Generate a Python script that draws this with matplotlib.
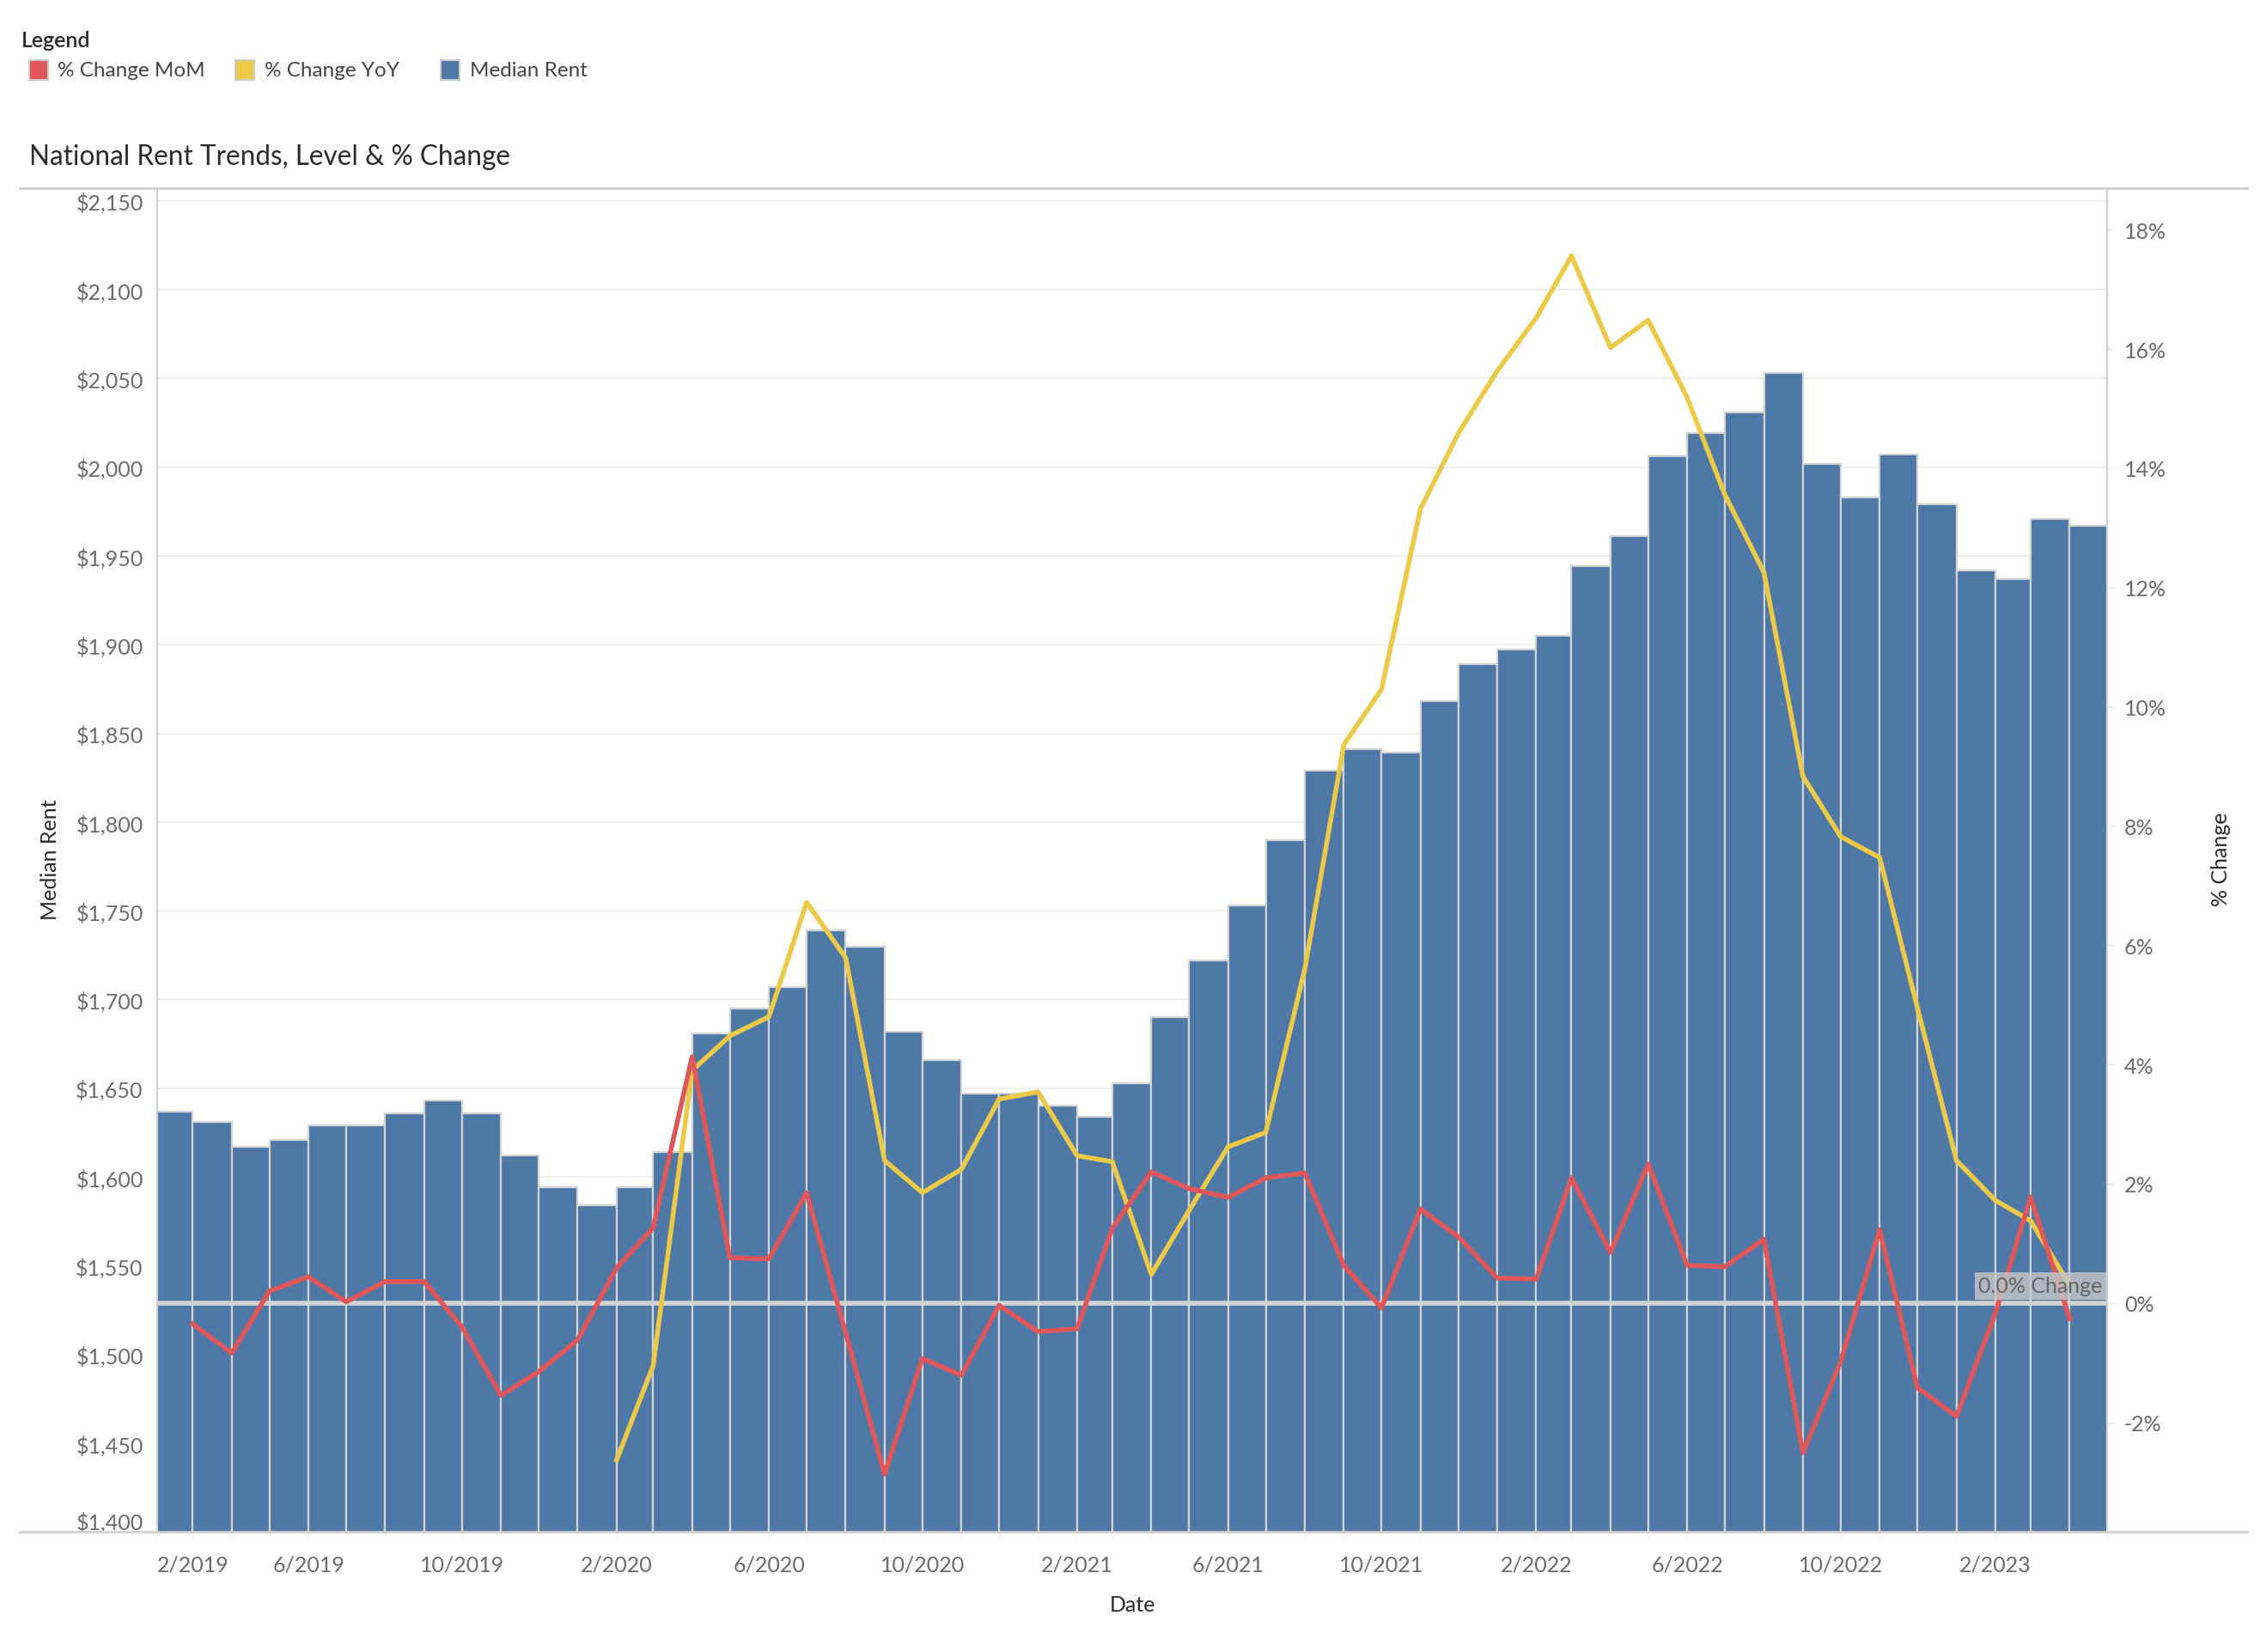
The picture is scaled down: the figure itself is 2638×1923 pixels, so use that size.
"""National rent trends: median rent bars with MoM / YoY % change lines."""

import matplotlib

matplotlib.use("Agg")
import matplotlib.pyplot as plt
import matplotlib.dates as mdates
import numpy as np
import pandas as pd
from matplotlib.lines import Line2D
from matplotlib.patches import Rectangle
from matplotlib.transforms import blended_transform_factory

OUT = "out.png"

# monthly median rent, 2/2019 .. 4/2023
RENT_START = "2019-02-01"
MEDIAN_RENT = [
    1637, 1631, 1617, 1621, 1629, 1629, 1636, 1643, 1636, 1612, 1594,
    1584, 1594, 1614, 1681, 1695, 1707, 1739, 1730, 1682, 1666, 1647, 1647,
    1640, 1634, 1653, 1690, 1722, 1753, 1790, 1829, 1841, 1839, 1868, 1889,
    1897, 1905, 1944, 1961, 2006, 2019, 2031, 2053, 2002, 1983, 2007, 1979,
    1942, 1937, 1971, 1967,
]

# % change month over month, 3/2019 .. 4/2023
MOM_START = "2019-03-01"
MOM_PCT = [
    -0.35, -0.84, 0.20, 0.44, 0.02, 0.36, 0.36, -0.40, -1.55, -1.15,
    -0.62, 0.59, 1.26, 4.13, 0.76, 0.74, 1.85, -0.50, -2.87, -0.93, -1.21, -0.04,
    -0.48, -0.43, 1.25, 2.20, 1.92, 1.77, 2.10, 2.18, 0.63, -0.08, 1.58, 1.11,
    0.42, 0.40, 2.10, 0.85, 2.33, 0.63, 0.61, 1.07, -2.51, -0.98, 1.23, -1.42,
    -1.90, -0.17, 1.78, -0.26,
]

# % change year over year, 2/2020 .. 4/2023
YOY_START = "2020-02-01"
YOY_PCT = [
    -2.63, -1.05, 3.90, 4.48, 4.80, 6.72, 5.79, 2.39, 1.85, 2.24, 3.42,
    3.54, 2.47, 2.37, 0.48, 1.55, 2.62, 2.86, 5.60, 9.36, 10.29, 13.32, 14.58,
    15.63, 16.52, 17.56, 16.02, 16.48, 15.18, 13.55, 12.25, 8.83, 7.82, 7.47, 4.95,
    2.39, 1.72, 1.38, 0.30,
]

RENT_TICKS = list(range(1400, 2151, 50))
PCT_TICKS = list(range(-2, 19, 2))

BLUE = "#4e79a7"
RED = "#e15759"
YELLOW = "#edc948"
TICK_GRAY = "#6b6b6b"
DARK = "#2a2a2a"
LINE_GRAY = "#d0d0d0"

RENT_LIM = (1400, 2157)
ZERO_RENT = 1529.0   # rent level where the 0% line sits
RENT_PER_PCT = 33.6


def main():
    plt.rcParams["font.family"] = ["Lato", "DejaVu Sans"]

    fig = plt.figure(figsize=(26.38, 19.24), dpi=100)
    ax = fig.add_axes([0.0695, 0.0726, 0.8605, 0.8129])

    edges = pd.date_range(RENT_START, periods=len(MEDIAN_RENT) + 1, freq="MS")
    enum = mdates.date2num(edges)
    ax.bar(enum[:-1], MEDIAN_RENT, width=np.diff(enum), align="edge",
           color=BLUE, edgecolor="#d4d4d4", linewidth=1.6, zorder=2)

    ax.set_xlim(enum[0], enum[-1])
    ax.set_ylim(*RENT_LIM)
    ax.set_yticks(RENT_TICKS)
    ax.set_yticklabels([f"${v:,}" for v in RENT_TICKS])
    ax.yaxis.grid(True, color="#efefef", lw=1.5)
    ax.set_axisbelow(True)
    ax.tick_params(axis="y", length=0, pad=12, labelsize=18, labelcolor=TICK_GRAY)
    ax.get_yticklabels()[0].set_va("bottom")

    xt = pd.date_range("2019-02-01", "2023-02-01", freq="4MS")
    ax.set_xticks(mdates.date2num(xt))
    ax.set_xticklabels([f"{d.month}/{d.year}" for d in xt])
    ax.set_xticks(enum, minor=True)
    ax.tick_params(axis="x", which="both", length=6, width=1, color="#ececec",
                   pad=13, labelsize=18, labelcolor=TICK_GRAY)
    ax.get_xticklabels()[0].set_ha("left")

    for s in ("top", "bottom", "right"):
        ax.spines[s].set_visible(False)
    ax.spines["left"].set_color(LINE_GRAY)
    ax.spines["left"].set_linewidth(1.5)

    # % change lines on the right axis
    ax2 = ax.twinx()
    ax2.set_ylim((RENT_LIM[0] - ZERO_RENT) / RENT_PER_PCT,
                 (RENT_LIM[1] - ZERO_RENT) / RENT_PER_PCT)
    ax2.axhline(0, color="#d3d3d3", lw=4, zorder=1)
    mom_x = mdates.date2num(pd.date_range(MOM_START, periods=len(MOM_PCT), freq="MS"))
    yoy_x = mdates.date2num(pd.date_range(YOY_START, periods=len(YOY_PCT), freq="MS"))
    ax2.plot(yoy_x, YOY_PCT, color=YELLOW, lw=4, solid_joinstyle="round", zorder=3)
    ax2.plot(mom_x, MOM_PCT, color=RED, lw=4, solid_joinstyle="round", zorder=4)

    tr = blended_transform_factory(ax2.transAxes, ax2.transData)
    ax2.text(0.9975, 0.12, "0.0% Change", transform=tr, ha="right", va="bottom",
             fontsize=18, color="#666666", zorder=5,
             bbox=dict(facecolor="#c8c8c8", edgecolor="none", alpha=0.8, pad=3))

    ax2.set_yticks(PCT_TICKS)
    ax2.set_yticklabels([f"{v}%" for v in PCT_TICKS])
    ax2.tick_params(axis="y", length=6, width=1, color="#e6e6e6", pad=8,
                    labelsize=18, labelcolor=TICK_GRAY)
    for s in ("top", "bottom", "left"):
        ax2.spines[s].set_visible(False)
    ax2.spines["right"].set_color(LINE_GRAY)
    ax2.spines["right"].set_linewidth(1.5)

    # pane borders spanning the whole width
    for y in (0.8855, 0.0726):
        fig.add_artist(Line2D([0.0089, 0.9917], [y, y], transform=fig.transFigure,
                              color="#cfcfcf", lw=2))

    fig.text(0.0223, 0.48, "Median Rent", rotation=90, ha="center", va="center",
             fontsize=18, color=DARK)
    fig.text(0.980, 0.48, "% Change", rotation=90, ha="center", va="center",
             fontsize=18, color=DARK)
    fig.text(0.5, 0.0288, "Date", ha="center", va="center", fontsize=18, color=DARK)

    fig.text(0.01276, 0.9047, "National Rent Trends, Level & % Change", ha="left",
             va="center", fontsize=22.7, color=DARK)

    # legend
    fig.text(0.0096, 0.9755, "Legend", ha="left", va="center", fontsize=18,
             color=DARK, fontweight="semibold")
    for x0, color, label in ((0.01276, RED, "% Change MoM"),
                             (0.1040, YELLOW, "% Change YoY"),
                             (0.1945, BLUE, "Median Rent")):
        fig.add_artist(Rectangle((x0, 0.9511), 0.0083, 0.0122, transform=fig.transFigure,
                                 facecolor=color, edgecolor="#cccccc", lw=1.5))
        fig.text(x0 + 0.0128, 0.9572, label, ha="left", va="center", fontsize=17.5,
                 color="#444444")

    fig.savefig(OUT, dpi=100)
    print("saved", OUT)


if __name__ == "__main__":
    main()
